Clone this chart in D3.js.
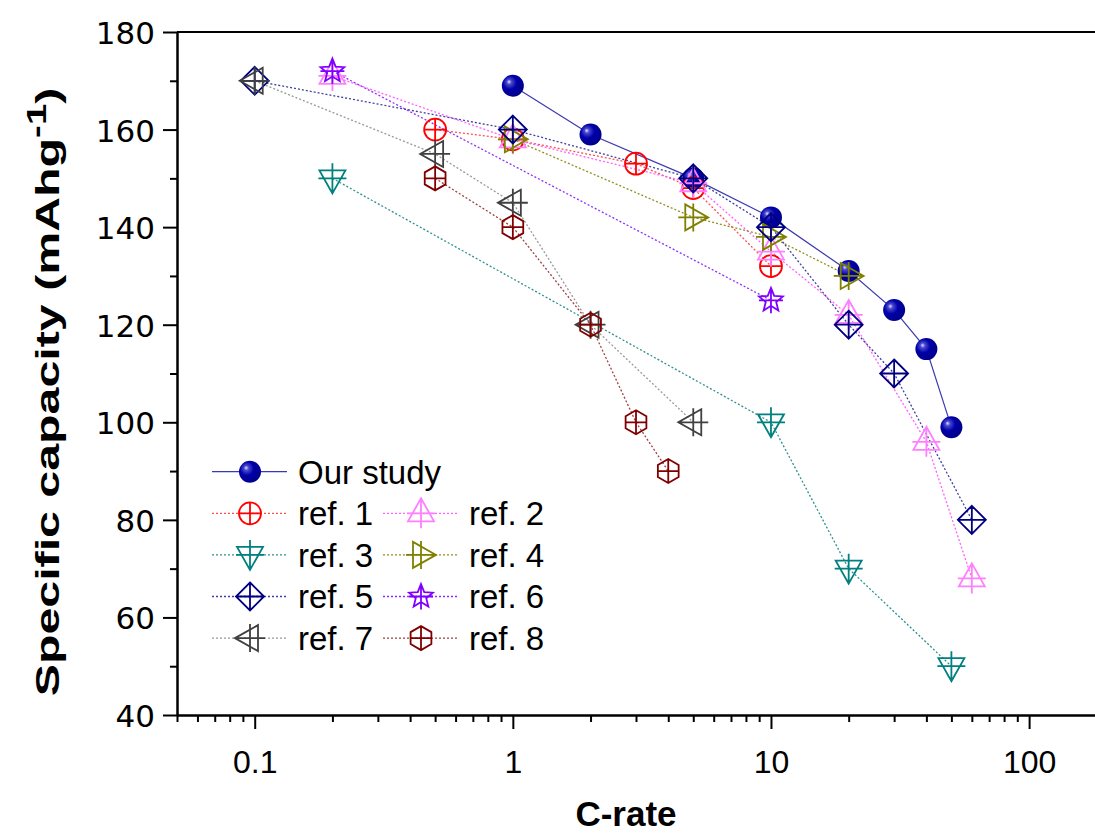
<!DOCTYPE html>
<html>
<head>
<meta charset="utf-8">
<title>Rate capability</title>
<script src="https://d3js.org/d3.v7.min.js"></script>
<style>
  body { margin: 0; background: #fff; }
  text { font-family: Arial, 'Liberation Sans', sans-serif; fill: #000; }
  .ytick text { font-family: 'DejaVu Sans', sans-serif; }
</style>
</head>
<body>
<script>
// C-rate values and capacities (mAh/g)
var ourX  = [1, 2, 5, 10, 20, 30, 40, 50];
var ourY  = [169, 159, 150, 142, 131, 123, 115, 99];
var ref1X = [0.5, 1, 3, 5, 10];
var ref1Y = [160, 158, 153, 148, 132];
var ref2X = [0.2, 1, 5, 10, 20, 40, 60];
var ref2Y = [171, 158, 149, 135, 122, 96, 68];
var ref3X = [0.2, 10, 20, 50];
var ref3Y = [150, 100, 70, 50];
var ref4X = [1, 5, 10, 20];
var ref4Y = [158, 142, 138, 130];
var ref5X = [0.1, 1, 5, 10, 20, 30, 60];
var ref5Y = [170, 160, 150, 140, 120, 110, 80];
var ref6X = [0.2, 10];
var ref6Y = [172, 125];
var ref7X = [0.1, 0.5, 1, 2, 5];
var ref7Y = [170, 155, 145, 120, 100];
var ref8X = [0.5, 1, 2, 3, 4];
var ref8Y = [150, 140, 120, 100, 90];

var seriesNames = ["Our study", "ref. 1", "ref. 2", "ref. 3", "ref. 4", "ref. 5", "ref. 6", "ref. 7", "ref. 8"];
var xMajor = [0.1, 1, 10, 100];
var xMinor = [0.05, 0.06, 0.07, 0.08, 0.09, 0.2, 0.3, 0.4, 0.5, 0.6, 0.7, 0.8, 0.9,
              2, 3, 4, 5, 6, 7, 8, 9, 20, 30, 40, 50, 60, 70, 80, 90];
var yMajor = [40, 60, 80, 100, 120, 140, 160, 180];
var yMinor = [50, 70, 90, 110, 130, 150, 170];

var W = 1095, H = 834;
var svg = d3.select("body").append("svg").attr("width", W).attr("height", H);

var x = d3.scaleLog().domain([0.05, 180]).range([177, 1095]);
var y = d3.scaleLinear().domain([40, 180]).range([715, 32]);

// styles per series
var styles = [
  {marker: "sphere",  color: "#00009c", line: "#3a3ab0", dash: null},
  {marker: "circle",  color: "#ff0000", line: "#ff5050", dash: "2,2"},
  {marker: "tri_up",  color: "#ff80ff", line: "#ff60ff", dash: "2,2"},
  {marker: "tri_dn",  color: "#008080", line: "#309090", dash: "2,2"},
  {marker: "tri_rt",  color: "#808000", line: "#909020", dash: "2,2"},
  {marker: "diamond", color: "#000080", line: "#4040a0", dash: "2,2"},
  {marker: "star",    color: "#8000ff", line: "#9030ff", dash: "2,2"},
  {marker: "tri_lt",  color: "#404040", line: "#999999", dash: "2,2"},
  {marker: "hexagon", color: "#800000", line: "#a04040", dash: "2,2"}
];
var allX = [ourX, ref1X, ref2X, ref3X, ref4X, ref5X, ref6X, ref7X, ref8X];
var allY = [ourY, ref1Y, ref2Y, ref3Y, ref4Y, ref5Y, ref6Y, ref7Y, ref8Y];

var series = seriesNames.map(function(n, i) {
  return {name: n, style: styles[i], pts: allX[i].map(function(v, j) { return [v, allY[i][j]]; })};
});

// gradient for the spheres
var defs = svg.append("defs");
var grad = defs.append("radialGradient").attr("id", "ball")
  .attr("cx", "40%").attr("cy", "40%").attr("r", "62%").attr("fx", "32%").attr("fy", "32%");
grad.append("stop").attr("offset", "0%").attr("stop-color", "#e0e0ff");
grad.append("stop").attr("offset", "18%").attr("stop-color", "#4848d0");
grad.append("stop").attr("offset", "50%").attr("stop-color", "#0000a8");
grad.append("stop").attr("offset", "100%").attr("stop-color", "#00008a");

// marker shapes (relative to centre)
function markerPath(type) {
  var s = 14;
  switch (type) {
    case "circle":
      return "M-11,0A11,11 0 1,0 11,0A11,11 0 1,0 -11,0Z M-11,0H11 M0,-11V11";
    case "tri_up":
      return "M0,-15L13,8L-13,8Z M-14,0H14 M0,-15V15";
    case "tri_dn":
      return "M0,15L13,-8L-13,-8Z M-14,0H14 M0,-15V15";
    case "tri_rt":
      return "M15,0L-8,13L-8,-13Z M0,-14V14 M-15,0H15";
    case "tri_lt":
      return "M-15,0L8,13L8,-13Z M0,-14V14 M-15,0H15";
    case "diamond":
      return "M0,-" + s + "L" + s + ",0L0," + s + "L-" + s + ",0Z M-" + s + ",0H" + s + " M0,-" + s + "V" + s;
    case "hexagon":
      var p = d3.range(6).map(function(k) {
        var a = Math.PI / 3 * k - Math.PI / 2;
        return [12 * Math.cos(a), 12 * Math.sin(a)];
      });
      return "M" + p.map(function(q) { return q[0].toFixed(2) + "," + q[1].toFixed(2); }).join("L") + "Z M-10.4,0H10.4 M0,-12V12";
    case "star":
      var r1 = 12.5, r2 = 5.5;
      var q = d3.range(10).map(function(k) {
        var a = Math.PI / 5 * k - Math.PI / 2, r = k % 2 ? r2 : r1;
        return [r * Math.cos(a), r * Math.sin(a)];
      });
      return "M" + q.map(function(t) { return t[0].toFixed(2) + "," + t[1].toFixed(2); }).join("L") + "Z M-12,0H12 M0,-12.5V13";
  }
}

function drawMarker(g, st) {
  if (st.marker === "sphere") {
    g.append("circle").attr("r", 11).attr("fill", "url(#ball)");
  } else {
    g.append("path").attr("d", markerPath(st.marker))
      .attr("fill", "none").attr("stroke", st.color).attr("stroke-width", 1.8);
  }
}

var line = d3.line().x(function(d) { return x(d[0]); }).y(function(d) { return y(d[1]); });

// lines
svg.append("g").selectAll("path").data(series).enter().append("path")
  .attr("d", function(d) { return line(d.pts); })
  .attr("fill", "none")
  .attr("stroke", function(d) { return d.style.line; })
  .attr("stroke-width", function(d) { return d.style.dash ? 1.3 : 1.2; })
  .attr("stroke-dasharray", function(d) { return d.style.dash; });

// markers
series.forEach(function(s) {
  var g = svg.append("g");
  s.pts.forEach(function(p) {
    var m = g.append("g").attr("transform", "translate(" + x(p[0]) + "," + y(p[1]) + ")");
    drawMarker(m, s.style);
  });
});

// axes
var xAxisMinor = d3.axisBottom(x).tickValues(xMinor).tickSize(7).tickSizeOuter(0).tickFormat("");
var xAxisMajor = d3.axisBottom(x).tickValues(xMajor).tickSize(14).tickSizeOuter(0)
  .tickFormat(function(d) { return d3.format("~g")(d); });
svg.append("g").attr("transform", "translate(0,715)").call(xAxisMinor);
var gx = svg.append("g").attr("transform", "translate(0,715)").call(xAxisMajor);
gx.selectAll("text").attr("y", 0).attr("dy", "773").attr("transform", "translate(0,-715)")
  .style("font-size", "32px").attr("text-anchor", "middle");

var yAxisMinor = d3.axisLeft(y).tickValues(yMinor).tickSize(7).tickSizeOuter(0).tickFormat("");
var yAxisMajor = d3.axisLeft(y).tickValues(yMajor).tickSize(14).tickSizeOuter(0);
svg.append("g").attr("transform", "translate(177,0)").call(yAxisMinor);
var gy = svg.append("g").attr("class", "ytick").attr("transform", "translate(177,0)").call(yAxisMajor);
gy.selectAll("text").attr("x", -22).attr("dy", "0.37em").style("font-size", "31px");

svg.selectAll(".domain, .tick line").attr("stroke", "#000").attr("stroke-width", 2);
// top frame line
svg.append("line").attr("x1", x(0.05)).attr("x2", x(180)).attr("y1", y(180)).attr("y2", y(180))
  .attr("stroke", "#000").attr("stroke-width", 2);

// axis titles
svg.append("text").attr("x", 626).attr("y", 826).attr("text-anchor", "middle")
  .style("font-size", "35px").style("font-weight", "bold").text("C-rate");

// y title: stretched along its length to span from ~y=88 to ~y=697
var ytg = svg.append("g").attr("transform", "translate(59,392) rotate(-90)");
var yt = ytg.append("text").attr("text-anchor", "middle")
  .style("font-size", "34px").style("font-weight", "bold");
yt.append("tspan").text("Specific capacity (mAhg");
yt.append("tspan").attr("dy", -13).style("font-size", "27px").text("-1");
yt.append("tspan").attr("dy", 13).text(")");
var natural = yt.node().getBBox().width;
yt.attr("transform", "scale(" + (609 / natural) + ",1)");

// legend
var legRow = 41.6, legY0 = 471.7;
var legItems = [
  {s: 0, col: 0, row: 0},
  {s: 1, col: 0, row: 1}, {s: 2, col: 1, row: 1},
  {s: 3, col: 0, row: 2}, {s: 4, col: 1, row: 2},
  {s: 5, col: 0, row: 3}, {s: 6, col: 1, row: 3},
  {s: 7, col: 0, row: 4}, {s: 8, col: 1, row: 4}
];
var colX = [212, 383];
legItems.forEach(function(it) {
  var s = series[it.s];
  var gx0 = colX[it.col], gy0 = legY0 + it.row * legRow;
  var g = svg.append("g").attr("transform", "translate(" + gx0 + "," + gy0 + ")");
  g.append("line").attr("x1", 0).attr("x2", 75).attr("y1", 0).attr("y2", 0)
    .attr("stroke", s.style.line).attr("stroke-width", 1.3)
    .attr("stroke-dasharray", s.style.dash);
  drawMarker(g.append("g").attr("transform", "translate(38,0)"), s.style);
  g.append("text").attr("x", 86).attr("y", 0).attr("dy", "0.36em")
    .style("font-size", "33px").text(s.name);
});
</script>
</body>
</html>
